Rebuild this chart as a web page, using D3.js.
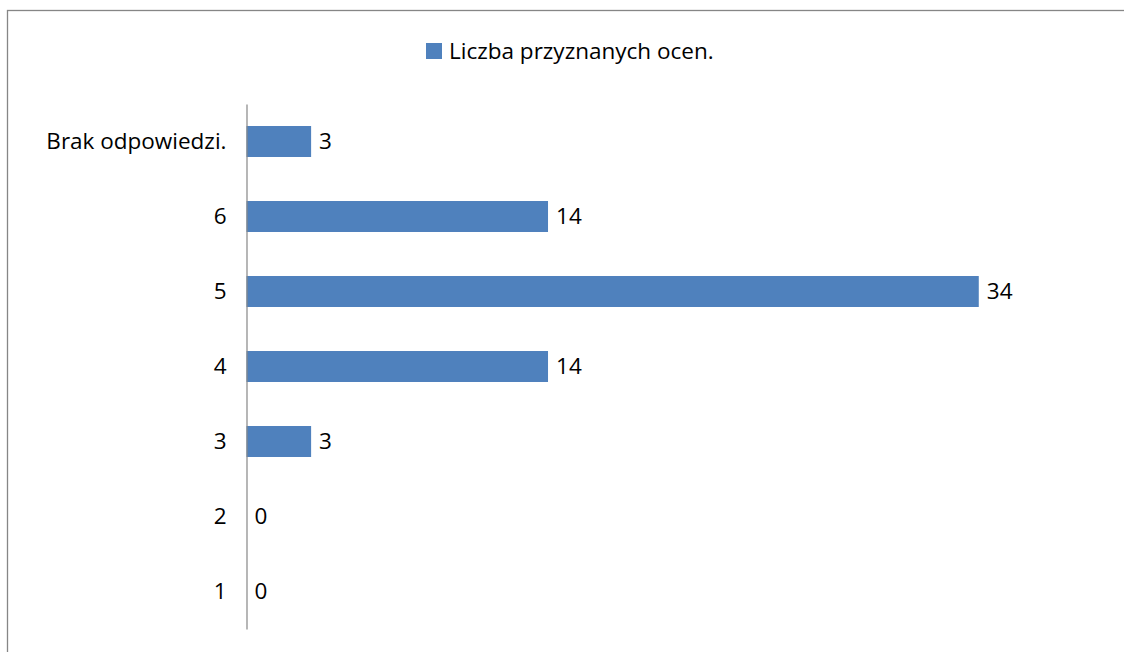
<!DOCTYPE html>
<html>
<head>
<meta charset="utf-8">
<script src="https://cdn.jsdelivr.net/npm/d3@7"></script>
<style>
    body { margin: 0; background: #fff; }
    svg text { font-family: "Open Sans", sans-serif; fill: #000; }
</style>
</head>
<body>
<svg class="chart" width="1124" height="652"></svg>
<script>
let categories = ['Brak odpowiedzi.', '6', '5', '4', '3', '2', '1'];
let values = [3, 14, 34, 14, 3, 0, 0];
let seriesName = 'Liczba przyznanych ocen.';
let xMax = 40;

let barColor = '#4f81bd';
let lineColor = '#868686';
let fontSize = 22.5;

function drawChart() {
    var svg = d3.select(".chart");

    // frame of the chart, cut off by the window on the right and bottom
    svg.append("rect")
        .attr("x", 7.5)
        .attr("y", 10.5)
        .attr("width", 1200)
        .attr("height", 700)
        .attr("fill", "none")
        .attr("stroke", lineColor)
        .attr("stroke-width", 1.3);

    let left = 246.5;
    let right = 1108;
    let top = 104;
    let bottom = 629;

    var x = d3.scaleLinear().domain([0, xMax]).range([left, right]);
    var y = d3.scaleBand()
        .domain(categories)
        .range([top, bottom])
        .paddingInner(0.587)
        .paddingOuter(0.2935);

    // legend
    let lg = svg.append("g").attr("class", "legend");
    lg.append("rect")
        .attr("x", 426)
        .attr("y", 43)
        .attr("width", 16)
        .attr("height", 16)
        .attr("fill", barColor);
    lg.append("text")
        .attr("x", 449)
        .attr("y", 51)
        .attr("dy", "0.35em")
        .style("font-size", fontSize + "px")
        .text(seriesName);

    let data = categories.map(function(c, i) { return {cat: c, val: values[i]}; });

    let g = svg.append("g").attr("class", "bars");
    g.selectAll("rect")
      .data(data)
      .enter().append("rect")
        .attr("x", x(0))
        .attr("y", function(d) { return y(d.cat); })
        .attr("width", function(d) { return x(d.val) - x(0); })
        .attr("height", y.bandwidth())
        .attr("fill", barColor);

    g.selectAll("text")
      .data(data)
      .enter().append("text")
        .attr("x", function(d) { return x(d.val) + 8; })
        .attr("y", function(d) { return y(d.cat) + y.bandwidth() / 2; })
        .attr("dy", "0.35em")
        .style("font-size", fontSize + "px")
        .text(function(d) { return d.val; });

    // category axis, no ticks
    let axis = svg.append("g")
        .attr("class", "yaxis")
        .attr("transform", "translate(" + left + ",0)")
        .call(d3.axisLeft(y).tickSize(0).tickPadding(20));
    axis.select(".domain")
        .attr("stroke", lineColor)
        .attr("stroke-width", 1.2);
    axis.selectAll("text")
        .style("font-size", fontSize + "px")
        .style("font-family", "'Open Sans', sans-serif")
        .attr("fill", "#000");
}

drawChart();
</script>
</body>
</html>
